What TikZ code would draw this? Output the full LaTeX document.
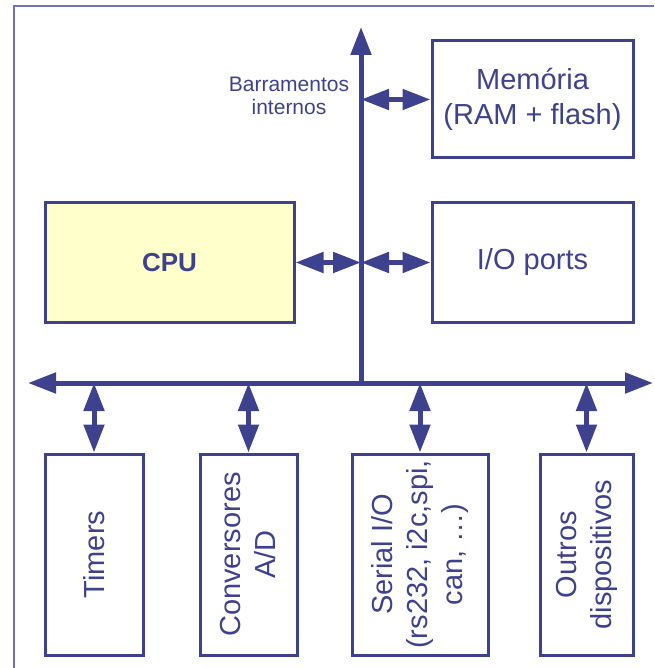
\documentclass[tikz,border=0pt]{standalone}
\usepackage{fontspec}
\setmainfont{Liberation Sans}
\usetikzlibrary{arrows.meta}
\definecolor{ink}{RGB}{62,66,142}
\definecolor{frame}{RGB}{112,114,182}
\definecolor{cpufill}{RGB}{255,255,204}
\tikzset{
  box/.style={draw=ink, line width=3pt, inner sep=0pt, anchor=center},
  boxtext/.style={text=ink, align=center, font=\fontsize{29}{35}\selectfont},
  vtext/.style={boxtext, rotate=90},
  bus/.style={draw=ink, line width=5pt, -{Triangle[length=28pt,width=20pt]}},
  link/.style={draw=ink, line width=5pt,
    {Triangle[length=28pt,width=20pt]}-{Triangle[length=28pt,width=20pt]}},
}
\begin{document}
\begin{tikzpicture}[x=1pt, y=-1pt]
  \useasboundingbox (0,0) rectangle (654,668);
  % outer frame (left and top edges)
  \draw[frame, line width=2pt] (14,668) -- (14,6) -- (654,6);

  % upper blocks
  \node[box, minimum width=201pt, minimum height=117pt] (mem) at (532.5,99.5) {};
  \node[boxtext] at (mem.center) {Memória\\(RAM + flash)};
  \node[box, minimum width=201pt, minimum height=119pt] (io) at (532.5,262.5) {};
  \node[boxtext] at (io.center) {I/O ports};
  \node[box, fill=cpufill, minimum width=249pt, minimum height=119pt] (cpu) at (169.5,262.5) {};
  \node[text=ink, font=\fontsize{26}{30}\selectfont\bfseries] at (cpu.center) {CPU};

  % lower blocks
  \node[box, minimum width=98pt, minimum height=201pt] (tim) at (94,554.5) {};
  \node[vtext] at (tim.center) {Timers};
  \node[box, minimum width=97pt, minimum height=201pt] (conv) at (248.5,554.5) {};
  \node[vtext] at (conv.center) {Conversores\\A/D};
  \node[box, minimum width=136pt, minimum height=201pt] (ser) at (420,554.5) {};
  \node[vtext] at (ser.center) {Serial I/O\\(rs232, i2c,spi,\\can, …)};
  \node[box, minimum width=93pt, minimum height=201pt] (out) at (586.5,554.5) {};
  \node[vtext] at (out.center) {Outros\\dispositivos};

  % internal buses
  \coordinate (vbot) at (361,383);
  \coordinate (vtop) at (361,27);
  \coordinate (hmid) at (340,383);
  \coordinate (hleft) at (28,383);
  \coordinate (hright) at (653,383);
  \draw[bus] (vbot) -- (vtop);
  \draw[bus] (hmid) -- (hleft);
  \draw[bus] (hmid) -- (hright);
  \node[text=ink, align=center, font=\fontsize{21}{23}\selectfont] (lbl) at (289,96) {Barramentos\\internos};

  % links between blocks and buses
  \draw[link] (cpu.east) -- (cpu.east -| vtop);
  \draw[link] (io.west -| vtop) -- (io.west);
  \draw[link] (mem.west -| vtop) -- (mem.west);
  \draw[link] (tim.north |- vbot) -- (tim.north);
  \draw[link] (conv.north |- vbot) -- (conv.north);
  \draw[link] (ser.north |- vbot) -- (ser.north);
  \draw[link] (out.north |- vbot) -- (out.north);
\end{tikzpicture}
\end{document}
